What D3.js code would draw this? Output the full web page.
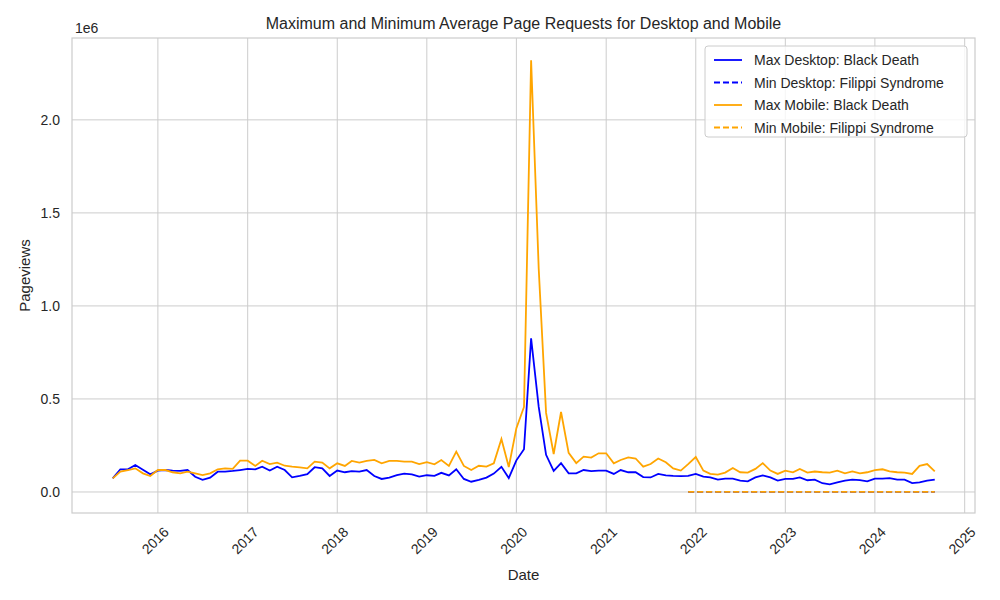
<!DOCTYPE html>
<html><head><meta charset="utf-8">
<script src="https://cdn.jsdelivr.net/npm/d3@7"></script>
<style>body{margin:0;background:#fff}text{font-family:"Liberation Sans",Arial,sans-serif}</style>
</head><body><svg id="c" width="1000" height="600"></svg>
<script>
const startMonth = "2015-07";
const maxDesktop = [73,122,122,145,120,95,115,118,115,113,118,82,65,77,109,109,113,118,124,122,136,115,136,118,79,86,96,133,127,86,115,106,112,109,118,86,70,77,90,99,95,83,90,87,103,89,122,70,55,65,77,99,
135,75,170,230,826,457,200,113,155,100,100,118,112,
115,115,97,118,106,106,80,78,97,89,86,85,86,97,82,78,66,72,72,61,57,78,89,78,61,70,70,78,63,66,47,41,52,61,66,64,57,72,72,74,66,66,48,52,61,66];
const maxMobile = [73,109,118,127,100,86,118,118,106,100,109,100,91,100,122,127,124,168,168,140,168,150,158,141,136,132,127,163,158,127,154,140,167,158,167,172,154,167,167,163,163,150,160,149,172,140,217,140,118,141,136,154,
285,134,343,457,2320,1200,425,204,430,210,155,190,185,
208,208,154,172,186,180,136,150,180,160,127,115,150,188,115,97,93,104,129,106,104,124,155,115,97,115,106,124,104,110,106,104,115,100,111,100,106,118,122,111,106,104,97,140,150,111];
const minStartIndex = 77;
const minDesktop = new Array(34).fill(0.3);
const minMobile = new Array(34).fill(0.4);
const yTicks = [0,0.5,1.0,1.5,2.0];
const xTickYears = [2016,2017,2018,2019,2020,2021,2022,2023,2024,2025];

const svg = d3.select("#c");
const L=72,R=975,T=38,B=513;
const p = d3.timeParse("%Y-%m");
const d0 = p(startMonth);
const dateAt = i => d3.timeMonth.offset(d0, i);
const x = d3.scaleTime().domain([new Date(2015,0,16), new Date(2025,1,12)]).range([L,R]);
const y = d3.scaleLinear().domain([-0.113,2.44]).range([B,T]);

// grid
svg.append("g").selectAll("line").data(xTickYears).join("line")
 .attr("x1",d=>x(new Date(d,0,1))).attr("x2",d=>x(new Date(d,0,1))).attr("y1",T).attr("y2",B)
 .attr("stroke","#cccccc").attr("stroke-width",1);
svg.append("g").selectAll("line").data(yTicks).join("line")
 .attr("x1",L).attr("x2",R).attr("y1",d=>y(d)).attr("y2",d=>y(d))
 .attr("stroke","#cccccc").attr("stroke-width",1);
svg.append("rect").attr("x",L).attr("y",T).attr("width",R-L).attr("height",B-T)
 .attr("fill","none").attr("stroke","#cccccc").attr("stroke-width",1.2);

// axes labels
svg.append("g").selectAll("text").data(yTicks).join("text")
 .attr("x",L-12).attr("y",d=>y(d)+5).attr("text-anchor","end").attr("font-size",14).attr("fill","#262626")
 .text(d=>d.toFixed(1));
svg.append("text").attr("x",L+3).attr("y",T-5).attr("font-size",14).attr("fill","#262626").text("1e6");
svg.append("g").selectAll("text").data(xTickYears).join("text")
 .attr("transform",d=>`translate(${x(new Date(d,0,1))+4},${B+12}) rotate(-45)`)
 .attr("text-anchor","end").attr("dy","0.8em").attr("font-size",14).attr("fill","#262626").text(d=>d);
svg.append("text").attr("x",(L+R)/2).attr("y",580).attr("text-anchor","middle").attr("font-size",15).attr("fill","#262626").text("Date");
svg.append("text").attr("transform",`translate(30,${(T+B)/2}) rotate(-90)`).attr("text-anchor","middle").attr("font-size",15).attr("fill","#262626").text("Pageviews");
svg.append("text").attr("x",(L+R)/2).attr("y",29).attr("text-anchor","middle").attr("font-size",16).attr("fill","#262626").text("Maximum and Minimum Average Page Requests for Desktop and Mobile");

const line = (off)=>d3.line().x((d,i)=>x(dateAt(i+off))).y(d=>y(d/1000));
svg.append("path").attr("d",line(0)(maxDesktop)).attr("fill","none").attr("stroke","#0000ff").attr("stroke-width",1.8);
svg.append("path").attr("d",line(minStartIndex)(minDesktop)).attr("fill","none").attr("stroke","#0000ff").attr("stroke-width",1.8).attr("stroke-dasharray","6,3");
svg.append("path").attr("d",line(0)(maxMobile)).attr("fill","none").attr("stroke","#ffa500").attr("stroke-width",1.8);
svg.append("path").attr("d",line(minStartIndex)(minMobile)).attr("fill","none").attr("stroke","#ffa500").attr("stroke-width",1.8).attr("stroke-dasharray","6,3");

// legend
const leg = [["Max Desktop: Black Death","#0000ff",null],["Min Desktop: Filippi Syndrome","#0000ff","6,3"],["Max Mobile: Black Death","#ffa500",null],["Min Mobile: Filippi Syndrome","#ffa500","6,3"]];
const lg = svg.append("g").attr("transform","translate(705,46)");
lg.append("rect").attr("width",262).attr("height",91).attr("rx",3).attr("fill","#fff").attr("fill-opacity",0.8).attr("stroke","#cccccc");
leg.forEach((d,i)=>{
 const yy=14+i*22.5;
 lg.append("line").attr("x1",9).attr("x2",37).attr("y1",yy).attr("y2",yy).attr("stroke",d[1]).attr("stroke-width",1.8).attr("stroke-dasharray",d[2]);
 lg.append("text").attr("x",49).attr("y",yy+5).attr("font-size",14).attr("fill","#262626").text(d[0]);
});
</script></body></html>
